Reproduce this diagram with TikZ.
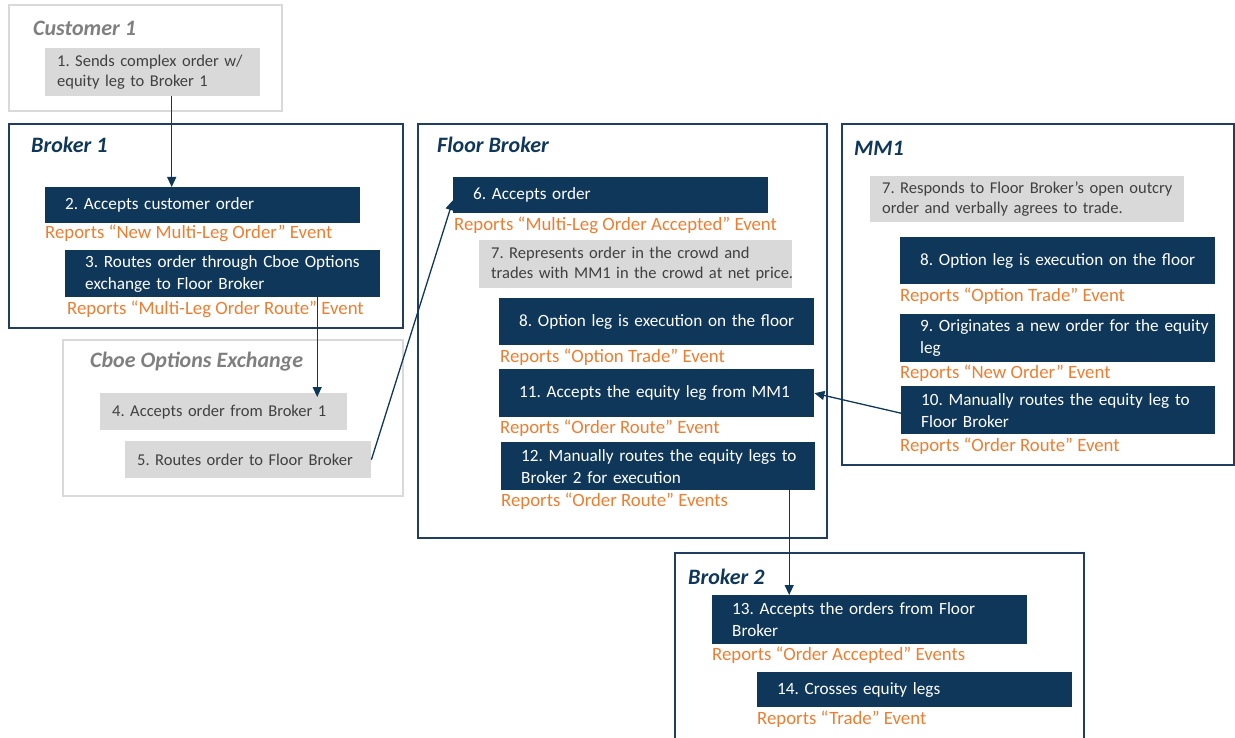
\documentclass[tikz,border=0pt]{standalone}
\usepackage{fontspec}
\setmainfont{Carlito}
\usetikzlibrary{arrows.meta}
\frenchspacing

\definecolor{navy}{RGB}{14,55,90}
\definecolor{framenavy}{RGB}{31,62,98}
\definecolor{lightgrey}{RGB}{217,217,217}
\definecolor{greytext}{RGB}{64,64,64}
\definecolor{titlegrey}{RGB}{127,127,127}
\definecolor{reportorange}{RGB}{237,125,49}

\tikzset{
  panel/.style={draw=framenavy, line width=1.8pt},
  greypanel/.style={draw=lightgrey, line width=2.2pt},
  heading/.style={anchor=west, inner sep=0, text=navy, font=\fontsize{22}{26}\selectfont\bfseries\itshape},
  greyheading/.style={heading, text=titlegrey},
  % box width as argument, text indented from the left edge
  navybox/.style={fill=navy, text=white, anchor=north west, inner xsep=0, inner ysep=0,
    text width=#1, align=left, execute at begin node={\leftskip=20pt\rightskip=-20pt plus 1fil},
    font=\fontsize{17.2}{22}\selectfont},
  greybox/.style={fill=lightgrey, text=greytext, anchor=north west, inner xsep=0, inner ysep=0,
    text width=#1, align=left, execute at begin node={\leftskip=12pt\rightskip=-20pt plus 1fil},
    font=\fontsize{16.5}{20.5}\selectfont},
  report/.style={anchor=west, inner sep=0, text=reportorange, font=\fontsize{18.8}{22}\selectfont},
  flow/.style={draw=navy, line width=1.3pt, -{Triangle[length=10pt,width=9pt]}}
}

\begin{document}
\begin{tikzpicture}[x=1pt, y=-1pt]
  \useasboundingbox (0,0) rectangle (1235,738);

  % Customer 1
  \draw[greypanel] (9,5) rectangle (282,111);
  \node[greyheading] (cust) at (33,28) {Customer 1};
  \node[greybox=215, minimum height=48] (b1) at (45,48)
    {1. Sends complex order w/\\equity leg to Broker 1};

  % Broker 1
  \draw[panel] (9,124) rectangle (403,328);
  \node[heading] (brk1) at (31,145) {Broker 1};
  \node[navybox=315, minimum height=36] (b2) at (45,187) {2. Accepts customer order};
  \node[report] (r2) at (45,233) {Reports “New Multi-Leg Order” Event};
  \node[navybox=315, minimum height=47] (b3) at (65,250)
    {3. Routes order through Cboe Options\\exchange to Floor Broker};
  \node[report] (r3) at (67,309) {Reports “Multi-Leg Order Route” Event};

  % Cboe Options Exchange
  \draw[greypanel] (63,340) rectangle (403,496);
  \node[greyheading] (cboe) at (90,362) {Cboe Options Exchange};
  \node[greybox=247, minimum height=37] (b4) at (100,393) {4. Accepts order from Broker 1};
  \node[greybox=246, minimum height=37] (b5) at (125,441) {5. Routes order to Floor Broker};

  % Floor Broker
  \draw[panel] (418,124) rectangle (827,538);
  \node[heading] (floor) at (437,145) {Floor Broker};
  \node[navybox=315, minimum height=36] (b6) at (453,177) {6. Accepts order};
  \node[report] (r6) at (454,225) {Reports “Multi-Leg Order Accepted” Event};
  \node[greybox=313, minimum height=48] (b7) at (479,240)
    {7. Represents order in the crowd and\\trades with MM1 in the crowd at net price.};
  \node[navybox=315, minimum height=47] (b8) at (499,298) {8. Option leg is execution on the floor};
  \node[report] (r8) at (500,357) {Reports “Option Trade” Event};
  \node[navybox=315, minimum height=48] (b11) at (499,369) {11. Accepts the equity leg from MM1};
  \node[report] (r11) at (500,428) {Reports “Order Route” Event};
  \node[navybox=314, minimum height=48] (b12) at (501,442)
    {12. Manually routes the equity legs to\\Broker 2 for execution};
  \node[report] (r12) at (501,501) {Reports “Order Route” Events};

  % MM1
  \draw[panel] (842,124) rectangle (1234,465);
  \node[heading] (mm1) at (854,148) {MM1};
  \node[greybox=314, minimum height=46] (m7) at (870,176)
    {7. Responds to Floor Broker’s open outcry\\order and verbally agrees to trade.};
  \node[navybox=315, minimum height=47] (m8) at (900,237) {8. Option leg is execution on the floor};
  \node[report] (rm8) at (900,296) {Reports “Option Trade” Event};
  \node[navybox=315, minimum height=48] (m9) at (900,314)
    {9. Originates a new order for the equity\\leg};
  \node[report] (rm9) at (900,373) {Reports “New Order” Event};
  \node[navybox=314, minimum height=48] (m10) at (901,386)
    {10. Manually routes the equity leg to\\Floor Broker};
  \node[report] (rm10) at (900,446) {Reports “Order Route” Event};

  % Broker 2
  \draw[panel] (675,745) -- (675,553) -- (1084,553) -- (1084,745);
  \node[heading] (brk2) at (688,577) {Broker 2};
  \node[navybox=315, minimum height=49] (b13) at (712,595)
    {13. Accepts the orders from Floor\\Broker};
  \node[report] (r13) at (712,655) {Reports “Order Accepted” Events};
  \node[navybox=315, minimum height=35] (b14) at (757,672) {14. Crosses equity legs};
  \node[report] (r14) at (757,719) {Reports “Trade” Event};

  % order flow
  \draw[flow] ([xshift=19]b1.south) -- ([xshift=19]b1.south |- b2.north);
  \draw[flow] ([xshift=94.5]b3.south) -- ([xshift=94.5,yshift=-4]b3.south |- b4.north);
  \draw[flow] (b5.east) -- ([yshift=-5]b6.west);
  \draw[flow] ([yshift=-3]m10.west) -- (b11.east);
  \draw[flow] ([xshift=131]b12.south) -- ([xshift=131]b12.south |- b13.north);
\end{tikzpicture}
\end{document}
